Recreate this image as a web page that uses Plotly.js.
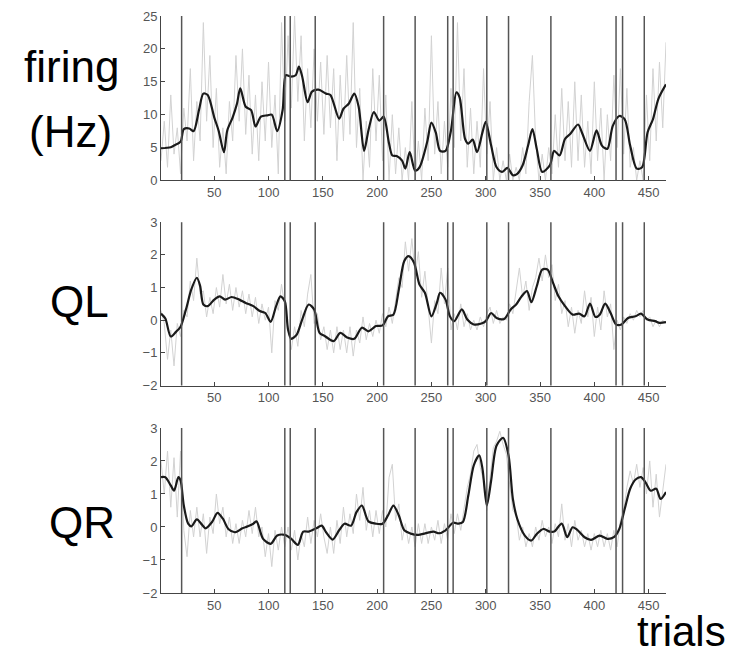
<!DOCTYPE html>
<html>
<head>
<meta charset="utf-8">
<script src="https://cdn.plot.ly/plotly-3.0.1.min.js"></script>
<style>html,body{margin:0;padding:0;background:#fff;}#chart{width:749px;height:657px;}</style>
</head>
<body>
<div id="chart"></div>
<script>
// event (vertical line) trials
const eventTrials = [20, 115, 120, 143, 206, 235, 265, 270, 301, 321, 360, 420, 426, 446];
const xTickVals = [50, 100, 150, 200, 250, 300, 350, 400, 450];

// raw (grey) series sampled every 3 trials starting at trial 1
const rawStart = 1, rawStep = 3;
const firingRaw = [3,9,2,13,4,8,1,11,6,17,3,12,6,24,9,19,5,14,2,8,1,12,6,19,9,20,7,16,4,13,3,15,6,18,5,13,1,24,9,22,11,25,12,22,6,17,8,20,9,18,7,19,8,17,3,16,6,19,7,24,5,14,0,9,2,17,6,16,3,13,0,10,1,8,0,5,0,12,0,6,0,11,3,22,4,12,1,9,2,14,5,24,6,17,2,11,1,9,2,17,4,12,0,5,0,3,0,4,0,2,0,5,1,12,19,6,0,4,0,5,1,10,2,14,3,12,2,15,3,13,2,9,1,15,3,11,0,10,3,16,5,17,4,14,2,5,0,3,0,13,3,17,6,18,8,21];
const qlRaw = [0.3,-0.1,-1.2,-0.3,-1.4,-0.1,-0.5,0.3,0.1,1.2,0.6,1.9,0.8,0.9,0.1,0.7,0.2,1.0,0.4,1.4,0.5,1.1,0.3,1.0,0.4,0.9,0.2,0.8,0.1,0.7,-0.1,0.5,0.0,0.4,-1.0,0.6,0.3,1.1,0.4,-0.3,-0.9,-0.2,-0.8,0.3,-0.2,0.8,1.4,-0.1,0.2,-0.6,-0.2,-0.9,-0.3,-1.0,-0.2,-0.9,-0.3,-1.0,-0.2,-1.1,-0.3,-0.7,0.1,-0.6,-0.1,-0.5,0.0,-0.4,0.2,-0.2,0.4,-0.1,0.6,1.3,1.0,2.4,1.5,2.5,1.4,2.1,0.7,1.5,0.4,-0.7,0.6,0.2,1.6,0.5,1.6,-0.3,0.2,-0.3,0.5,-0.2,0.2,-0.3,0.0,-0.3,0.1,-0.2,0.2,0.4,-0.1,0.3,-0.1,0.1,0.0,0.5,0.2,0.9,1.6,0.7,1.2,0.3,1.0,1.3,1.9,1.2,2.0,1.3,1.7,0.6,1.1,0.2,0.6,-0.2,0.4,-0.4,0.3,-0.1,0.9,0.1,0.7,-0.5,0.4,-0.3,0.9,0.1,0.5,-0.9,0.0,-0.3,0.1,-0.1,0.2,0.0,0.3,0.1,0.3,0.0,0.1,-0.2,0.0,-0.2,0.0,-0.1];
const qrRaw = [2.0,1.0,2.3,0.6,2.1,0.3,2.3,-0.1,-0.9,0.5,-0.3,0.6,-0.3,0.4,-0.8,0.3,-0.2,1.0,0.1,0.6,-0.3,0.3,-0.5,0.1,-0.5,0.2,-0.3,0.5,-0.2,0.6,-0.3,0.0,-0.9,-0.2,-1.2,-0.1,-0.7,0.0,-0.6,0.0,-0.7,-0.1,-1.0,-0.2,-0.6,0.3,-0.5,0.2,-0.3,0.4,-0.3,-0.8,0.0,-0.8,0.2,-0.5,0.6,-0.3,0.4,-0.2,1.0,0.2,1.2,-0.1,0.5,-0.3,0.5,-0.2,0.5,0.0,1.5,1.9,0.2,0.7,-0.4,0.1,-0.5,0.0,-0.6,0.1,-0.5,0.1,-0.5,0.0,-0.4,0.2,-0.5,0.1,-0.4,0.4,-0.2,0.4,-0.1,0.5,1.2,1.6,2.3,2.5,1.8,1.4,0.5,1.5,2.4,2.6,2.9,2.5,2.2,1.3,0.5,0.4,-0.4,0.0,-0.6,-0.2,-0.6,0.0,-0.4,0.2,-0.3,0.0,-0.5,0.1,-0.3,0.7,-0.4,0.1,-0.6,0.2,-0.4,-0.1,-0.6,-0.2,-0.7,-0.2,-0.6,-0.1,-0.6,-0.2,-0.7,-0.1,-0.6,0.2,0.5,1.2,1.7,1.3,1.9,1.2,1.8,1.0,2.0,0.6,1.6,0.3,1.1,1.9];

// smoothed (black) series
const firingX = [1,10,13,19,22,27,31,36,40,44,50,54,59,62,67,71,74,79,84,88,93,99,103,108,113,116,120,125,128,131,136,140,146,153,157,165,169,174,179,183,188,192,197,202,206,211,214,218,223,226,230,235,239,246,250,254,258,263,268,273,276,281,284,288,292,297,300,305,310,315,320,325,329,334,339,343,347,352,359,363,368,373,378,385,389,396,402,407,412,417,423,428,433,439,444,449,454,459,466];
const firingY = [4.9,5.05,5.3,5.9,7.8,7.9,7.5,10.7,13.2,13.0,9.6,7.6,4.3,7.6,9.6,11.7,14.0,11.2,10.7,8.2,9.7,9.9,10.0,7.5,10.7,16.0,15.8,16.0,17.3,15.8,11.9,13.5,13.8,13.2,13.0,9.4,10.9,11.7,13.2,11.2,4.5,7.6,10.4,9.1,9.7,5.6,3.8,3.7,3.0,1.8,4.3,1.5,2.0,5.8,8.8,7.3,4.5,4.5,7.6,13.4,12.6,6.3,5.6,6.2,4.3,7.3,8.9,5.3,2.0,1.3,1.9,0.8,1.0,2.3,5.3,7.8,4.8,1.3,2.3,4.5,3.8,6.3,7.1,8.5,7.1,4.5,7.6,5.3,4.8,8.3,9.8,9.3,5.3,1.8,2.0,7.3,9.3,12.4,14.6];
const qlX = [1,5,10,15,19,24,29,34,37,40,44,50,55,60,66,73,79,86,92,97,102,107,111,115,118,121,126,131,137,142,147,152,160,166,173,179,186,192,199,205,210,215,220,225,229,234,239,244,250,255,258,263,267,271,278,283,289,296,300,305,310,317,323,328,333,338,342,347,352,357,362,367,373,380,386,391,396,401,405,410,415,420,425,431,438,443,449,456,460,466];
const qlY = [0.2,0.05,-0.5,-0.35,-0.2,0.33,0.95,1.3,1.05,0.48,0.43,0.63,0.73,0.63,0.71,0.63,0.53,0.43,0.28,0.22,-0.05,0.43,0.73,0.58,-0.29,-0.57,-0.44,0.02,0.48,0.33,-0.39,-0.49,-0.64,-0.39,-0.54,-0.57,-0.23,-0.34,-0.18,-0.16,0.12,0.17,0.94,1.81,1.96,1.76,1.09,0.84,0.12,0.53,0.84,0.63,0.12,-0.03,0.33,0.02,-0.13,-0.1,-0.03,0.22,0.07,0.04,0.33,0.48,0.73,0.89,0.55,1.04,1.55,1.55,1.14,0.73,0.43,0.17,0.2,0.12,0.51,0.1,0.17,0.51,0.22,-0.13,-0.13,0.07,0.12,0.2,0.02,-0.03,-0.08,-0.06];
const qrX = [1,5,10,13,17,19,22,26,29,34,39,42,48,53,58,63,69,76,81,86,89,95,102,108,115,121,127,132,137,144,149,153,159,165,170,176,181,186,192,199,205,210,215,220,225,231,237,246,252,257,263,270,275,279,284,289,294,297,301,305,310,316,321,325,329,336,342,347,353,359,363,370,375,380,384,391,397,405,412,418,423,428,433,438,443,447,452,457,461,466];
const qrY = [1.51,1.51,1.26,1.1,1.51,1.41,0.65,0.1,0.02,0.23,0.06,-0.04,0.15,0.43,0.25,-0.06,-0.16,-0.04,0.02,0.1,0.17,-0.36,-0.51,-0.26,-0.24,-0.36,-0.54,-0.14,-0.14,-0.04,0.04,-0.16,-0.38,-0.1,0.1,0.04,0.45,0.65,0.17,0.1,0.1,0.35,0.65,0.35,-0.1,-0.2,-0.24,-0.18,-0.14,-0.19,-0.1,0.13,0.1,0.15,0.96,1.87,2.17,1.77,0.65,1.41,2.47,2.7,2.17,0.85,0.25,-0.26,-0.41,-0.21,-0.06,-0.14,-0.14,0.1,-0.31,-0.01,-0.08,-0.31,-0.39,-0.26,-0.36,-0.31,-0.06,0.55,1.16,1.44,1.51,1.36,1.1,1.16,0.85,1.06];

function rawX(arr){ return arr.map((_, i) => rawStart + i * rawStep); }

const grey = '#d2d2d2';
const black = '#1a1a1a';
const traces = [];
function addPanel(raw, sx, sy, xa, ya){
  traces.push({x: rawX(raw), y: raw, xaxis: xa, yaxis: ya, type: 'scatter', mode: 'lines',
    line: {color: grey, width: 1}, hoverinfo: 'skip'});
  traces.push({x: sx, y: sy, xaxis: xa, yaxis: ya, type: 'scatter', mode: 'lines',
    line: {color: black, width: 2.2, shape: 'spline', smoothing: 0.8}, hoverinfo: 'skip'});
}
addPanel(firingRaw, firingX, firingY, 'x', 'y');
addPanel(qlRaw, qlX, qlY, 'x2', 'y2');
addPanel(qrRaw, qrX, qrY, 'x3', 'y3');

const shapes = [];
[['x','y'],['x2','y2'],['x3','y3']].forEach(([xa, ya]) => {
  eventTrials.forEach(t => {
    shapes.push({type: 'line', xref: xa, yref: ya + ' domain', x0: t, x1: t, y0: 0, y1: 1,
      line: {color: '#555', width: 1.5}, layer: 'above'});
  });
});

const tickFont = {family: 'Liberation Sans, Arial, sans-serif', size: 13, color: '#555'};
function xAxis(anchor){
  return {range: [1, 466], tickvals: xTickVals, ticks: 'inside', ticklen: 4, tickcolor: '#444',
    showline: true, linecolor: '#444', linewidth: 1, showgrid: false, zeroline: false,
    tickfont: tickFont, anchor: anchor, fixedrange: true};
}
function yAxis(domain, range, dtick, anchor){
  return {domain: domain, range: range, dtick: dtick, tick0: 0, ticks: 'inside', ticklen: 4, tickcolor: '#444',
    showline: true, linecolor: '#444', linewidth: 1, showgrid: false, zeroline: false,
    tickfont: tickFont, anchor: anchor, fixedrange: true};
}
function label(text, x, y, size){
  return {text: text, xref: 'paper', yref: 'paper', x: x, y: y, xanchor: 'center', yanchor: 'middle',
    showarrow: false, font: {family: 'Liberation Sans, Arial, sans-serif', size: size, color: '#000'}};
}

const layout = {
  width: 749, height: 657,
  margin: {l: 161, r: 83, t: 16, b: 64},
  paper_bgcolor: '#fff', plot_bgcolor: '#fff',
  showlegend: false,
  xaxis: xAxis('y'),
  xaxis2: xAxis('y2'),
  xaxis3: xAxis('y3'),
  yaxis: yAxis([0.715, 1], [0, 25], 5, 'x'),
  yaxis2: yAxis([0.3596, 0.6426], [-2, 3], 1, 'x2'),
  yaxis3: yAxis([0, 0.286], [-2, 3], 1, 'x3'),
  shapes: shapes,
  annotations: [
    label('firing', -0.178, 0.913, 44),
    label('(Hz)', -0.180, 0.799, 44),
    label('QL', -0.162, 0.506, 44),
    label('QR', -0.156, 0.123, 44),
    label('trials', 1.030, -0.066, 42)
  ]
};

Plotly.newPlot('chart', traces, layout, {displayModeBar: false, staticPlot: true});
</script>
</body>
</html>
